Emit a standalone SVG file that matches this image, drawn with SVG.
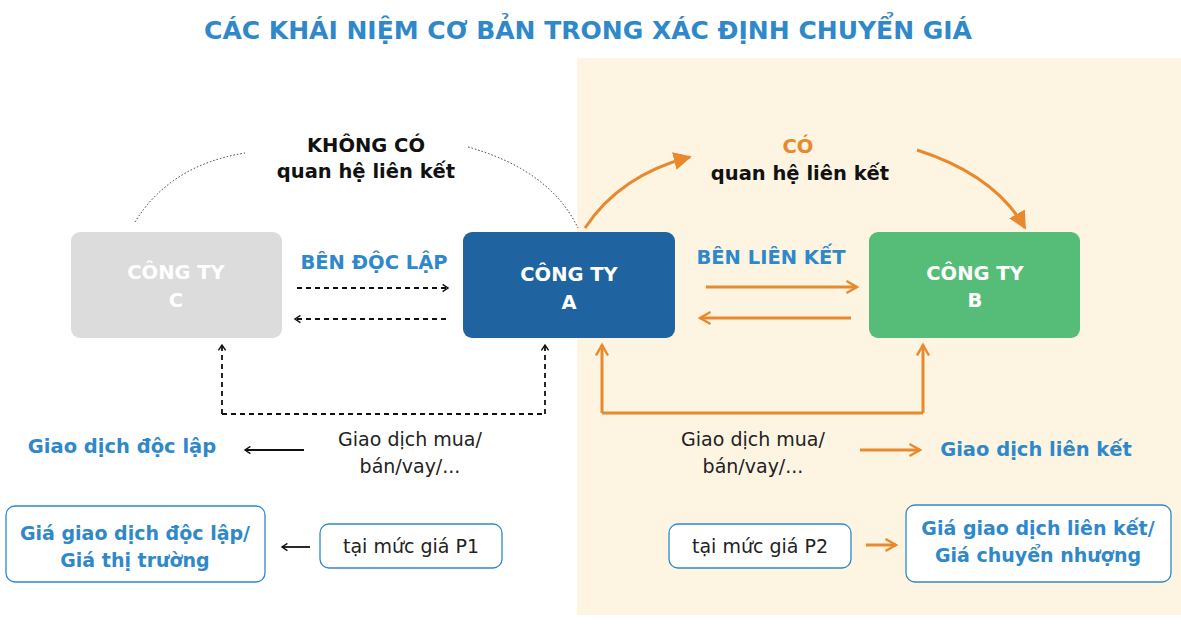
<svg xmlns="http://www.w3.org/2000/svg" width="1181" height="627" viewBox="0 0 1181 627">
<style>
text{font-family:"DejaVu Sans","Liberation Sans",sans-serif;font-weight:700}
.nt{fill:#fff;font-size:19.5px;text-anchor:middle}
.bl{fill:#2f88c9}
.or{stroke:#e8892e;stroke-width:3;fill:none}
.dk{stroke:#111;stroke-width:1.8;fill:none;stroke-dasharray:5 4}
.reg{font-weight:400;font-size:19px;fill:#222;text-anchor:middle}
.box{fill:#fff;stroke:#2f88c9;stroke-width:1.3}
</style>
<defs>
<marker id="ao" viewBox="0 0 10 10" refX="8" refY="5" markerWidth="5" markerHeight="5" orient="auto"><path d="M1,1 L8,5 L1,9" fill="none" stroke="#e8892e" stroke-width="1.6"/></marker>
<marker id="aof" viewBox="0 0 10 10" refX="9" refY="5" markerWidth="6" markerHeight="6" orient="auto"><path d="M0,0 L10,5 L0,10 z" fill="#e8892e"/></marker>
<marker id="ak" viewBox="0 0 10 10" refX="8" refY="5" markerWidth="5" markerHeight="5" orient="auto"><path d="M2,1 L8,5 L2,9" fill="none" stroke="#111" stroke-width="1.6"/></marker>
</defs>
<rect width="1181" height="627" fill="#fff"/>
<rect x="577" y="58" width="604" height="557" fill="#fdf5e2"/>
<text x="588" y="39" font-size="25" text-anchor="middle" class="bl">CÁC KHÁI NIỆM CƠ BẢN TRONG  XÁC ĐỊNH CHUYỂN GIÁ</text>
<g id="connectors">
<path d="M135,222 Q170,165 245,153" stroke="#333" stroke-width="1" stroke-dasharray="1.5 2" fill="none"/>
<path d="M468,147 Q550,170 578,228" stroke="#333" stroke-width="1" stroke-dasharray="1.5 2" fill="none"/>
<path d="M297,288 H448" class="dk" marker-end="url(#ak)"/>
<path d="M446,319 H295" class="dk" marker-end="url(#ak)"/>
<path d="M222,414 H545" class="dk"/>
<path d="M222,414 V345" class="dk" marker-end="url(#ak)"/>
<path d="M545,414 V345" class="dk" marker-end="url(#ak)"/>
<path d="M585,228 Q620,175 690,157" class="or" marker-end="url(#aof)"/>
<path d="M917,150 Q995,175 1025,228" class="or" marker-end="url(#aof)"/>
<path d="M706,287 H857" class="or" marker-end="url(#ao)"/>
<path d="M851,318 H700" class="or" marker-end="url(#ao)"/>
<path d="M602,413 H923" class="or"/>
<path d="M602,413 V345" class="or" marker-end="url(#ao)"/>
<path d="M923,413 V345" class="or" marker-end="url(#ao)"/>
<path d="M304,450 H245" stroke="#111" stroke-width="1.8" marker-end="url(#ak)"/>
<path d="M310,547 H282" stroke="#111" stroke-width="1.8" marker-end="url(#ak)"/>
<path d="M860,450 H920" class="or" stroke-width="2" marker-end="url(#ao)"/>
<path d="M866,545 H896" class="or" stroke-width="2" marker-end="url(#ao)"/>
</g>
<g id="nodeC"><rect x="71" y="232" width="211" height="106" rx="9" fill="#dcdcdc"/><text class="nt" x="176" y="279">CÔNG TY</text><text class="nt" x="176" y="307">C</text></g>
<g id="nodeA"><rect x="463" y="232" width="212" height="106" rx="9" fill="#1f64a0"/><text class="nt" x="569" y="281">CÔNG TY</text><text class="nt" x="569" y="309">A</text></g>
<g id="nodeB"><rect x="869" y="232" width="211" height="106" rx="9" fill="#55bd78"/><text class="nt" x="975" y="280">CÔNG TY</text><text class="nt" x="975" y="307">B</text></g>
<g id="labels">
<text x="366" y="152" font-size="19.5" fill="#111" text-anchor="middle">KHÔNG CÓ</text>
<text x="366" y="178" font-size="19.5" fill="#111" text-anchor="middle">quan hệ liên kết</text>
<text x="798" y="153" font-size="19.5" fill="#e8892e" text-anchor="middle">CÓ</text>
<text x="800" y="180" font-size="19.5" fill="#111" text-anchor="middle">quan hệ liên kết</text>
<text x="374" y="269" font-size="19.5" class="bl" text-anchor="middle">BÊN ĐỘC LẬP</text>
<text x="771" y="264" font-size="19.5" class="bl" text-anchor="middle">BÊN LIÊN KẾT</text>
<text class="reg" x="410" y="446">Giao dịch mua/</text>
<text class="reg" x="410" y="473">bán/vay/...</text>
<text class="reg" x="753" y="446">Giao dịch mua/</text>
<text class="reg" x="753" y="473">bán/vay/...</text>
<text x="122" y="453" font-size="19.5" class="bl" text-anchor="middle">Giao dịch độc lập</text>
<text x="1036" y="456" font-size="19.5" class="bl" text-anchor="middle">Giao dịch liên kết</text>
</g>
<g id="boxP1"><rect class="box" x="320" y="524" width="182" height="44" rx="9"/><text class="reg" x="411" y="553">tại mức giá P1</text></g>
<g id="boxP2"><rect class="box" x="669" y="524" width="182" height="44" rx="9"/><text class="reg" x="760" y="553">tại mức giá P2</text></g>
<g id="boxL"><rect class="box" x="6" y="506" width="259" height="76" rx="9"/><text x="135" y="540" font-size="19" class="bl" text-anchor="middle">Giá giao dịch độc lập/</text><text x="135" y="567" font-size="19" class="bl" text-anchor="middle">Giá thị trường</text></g>
<g id="boxR"><rect class="box" x="906" y="505" width="265" height="77" rx="9"/><text x="1038" y="535" font-size="19" class="bl" text-anchor="middle">Giá giao dịch liên kết/</text><text x="1038" y="562" font-size="19" class="bl" text-anchor="middle">Giá chuyển nhượng</text></g>
</svg>
